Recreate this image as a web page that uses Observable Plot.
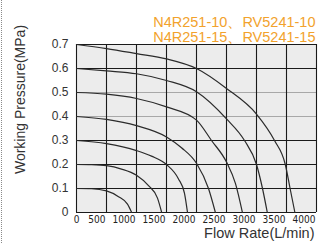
<!DOCTYPE html>
<html><head><meta charset="utf-8">
<script src="https://cdn.jsdelivr.net/npm/d3@7"></script>
<script src="https://cdn.jsdelivr.net/npm/@observablehq/plot@0.6"></script>
<style>
body{margin:0;background:#fff;}
#wrap{position:relative;width:316px;height:243px;margin-left:1px;border-left:1.5px dotted #8a8a8a;}
svg{font-family:"Liberation Sans",Arial,sans-serif;}
</style></head>
<body><div id="wrap"></div>
<script>
const titleLines = ["N4R251-10、RV5241-10", "N4R251-15、RV5241-15"];
const xLabel = "Flow Rate(L/min)";
const yLabel = "Working Pressure(MPa)";
const xTicks = [0, 500, 1000, 1500, 2000, 2500, 3000, 3500, 4000];
const yTicks = [0, 0.1, 0.2, 0.3, 0.4, 0.5, 0.6, 0.7];
const darkRows = [0, 0.1, 0.2, 0.3, 0.6, 0.7];
const lightRows = [0.4, 0.5];
// flow (L/min) vs pressure (MPa) for each supply pressure
const c01 = [[0,0.1],[250,0.099],[500,0.09],[700,0.066],[850,0.035],[920,0]];
const c02 = [[0,0.2],[250,0.199],[500,0.195],[750,0.181],[1000,0.155],[1200,0.112],[1350,0.06],[1420,0]];
const c03 = [[0,0.3],[500,0.287],[1000,0.258],[1250,0.235],[1500,0.2],[1700,0.14],[1800,0.08],[1850,0]];
const c04 = [[0,0.4],[500,0.388],[1000,0.362],[1500,0.315],[1750,0.27],[2000,0.205],[2200,0.1],[2315,0]];
const c05 = [[0,0.5],[500,0.493],[1000,0.475],[1500,0.44],[2000,0.385],[2250,0.3],[2500,0.21],[2650,0.12],[2765,0]];
const c06 = [[0,0.6],[500,0.59],[1000,0.578],[1500,0.55],[2000,0.503],[2500,0.39],[2800,0.3],[3000,0.2],[3100,0.1],[3180,0]];
const c07 = [[0,0.7],[500,0.683],[1000,0.662],[1500,0.64],[2000,0.6],[2500,0.517],[3000,0.41],[3300,0.3],[3480,0.2],[3560,0.1],[3640,0]];
const curves = [c01, c02, c03, c04, c05, c06, c07];

const narrow = "Liberation Sans Narrow, DejaVu Sans Condensed, sans-serif";
const xAxisOpts = {tickSize: 0, tickPadding: 3, tickFormat: d3.format("d"), fontSize: 10, fill: "#222", label: null, fontFamily: narrow};
const plot = Plot.plot({
  width: 316, height: 243,
  marginLeft: 74, marginRight: 2, marginTop: 44, marginBottom: 31,
  style: {background: "transparent", overflow: "visible"},
  x: {domain: [0, 4000], label: null},
  y: {domain: [0, 0.7], label: null},
  marks: [
    Plot.frame({fill: "#ececec", stroke: "none"}),
    Plot.ruleY(lightRows, {stroke: "#a8a8a8", strokeWidth: 1}),
    Plot.ruleY(darkRows, {stroke: "#1a1a1a", strokeWidth: 1.1}),
    Plot.ruleX(xTicks, {stroke: "#1a1a1a", strokeWidth: 1.1}),
    ...curves.map(c => Plot.line(c, {x: d => d[0], y: d => d[1], curve: "monotone-x", stroke: "#2b2b2b", strokeWidth: 1.2})),
    Plot.axisY({ticks: yTicks, tickSize: 0, tickPadding: 8, tickFormat: d3.format(""), fontSize: 12, fill: "#333", label: null}),
    Plot.axisX({...xAxisOpts, ticks: xTicks.slice(0, 1)}),
    Plot.axisX({...xAxisOpts, ticks: xTicks.slice(1), textAnchor: "end", dx: -1}),
    Plot.text([titleLines[0]], {frameAnchor: "top-right", dy: -28, dx: -1, fill: "#f2a22c", fontSize: 14.5}),
    Plot.text([titleLines[1]], {frameAnchor: "top-right", dy: -13, dx: -1, fill: "#f2a22c", fontSize: 14.5}),
    Plot.text([xLabel], {frameAnchor: "bottom-right", dy: 25, dx: -2, textAnchor: "end", fill: "#333", fontSize: 14.5}),
    Plot.text([yLabel], {frameAnchor: "left", textAnchor: "middle", dx: -56, dy: -29, rotate: -90, fill: "#333", fontSize: 14})
  ]
});
document.getElementById("wrap").appendChild(plot);
</script>
</body></html>
